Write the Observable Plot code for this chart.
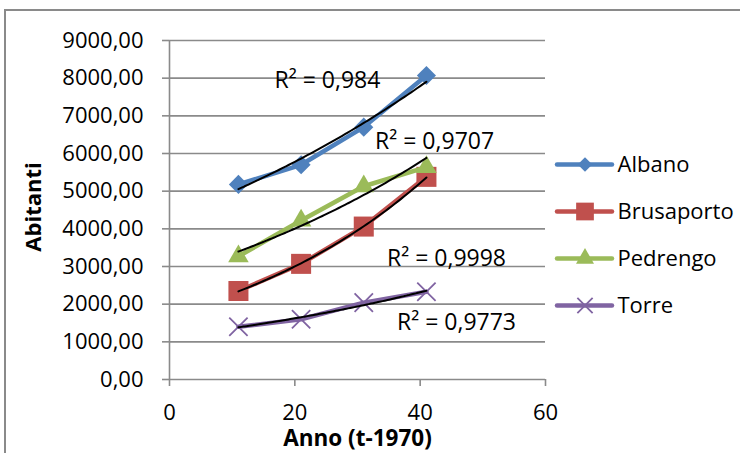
<!DOCTYPE html>
<html>
<head>
<meta charset="utf-8">
<script src="https://cdn.jsdelivr.net/npm/d3@7"></script>
<script src="https://cdn.jsdelivr.net/npm/@observablehq/plot@0.6"></script>
<style>
  html, body { margin: 0; padding: 0; background: #fff; }
  #wrap { position: relative; width: 740px; height: 453px; overflow: hidden; background: #fff; }
  #border { position: absolute; left: 4px; top: 9px; width: 900px; height: 700px;
            border-top: 2px solid #8a8a8a; border-left: 2px solid #8a8a8a; }
  #chart, #legend { position: absolute; top: 0; }
  #chart { left: 0; }
  #legend { left: 545px; }
</style>
</head>
<body>
<div id="wrap">
  <div id="border"></div>
  <div id="chart"></div>
  <div id="legend"></div>
</div>
<script>
// ---- data ----
const years = [11, 21, 31, 41];
const seriesNames = ["Albano", "Brusaporto", "Pedrengo", "Torre"];
const albano = [5180, 5700, 6700, 8070];
const brusaporto = [2350, 3070, 4060, 5380];
const pedrengo = [3270, 4220, 5130, 5640];
const torre = [1400, 1600, 2040, 2330];
const r2Values = ["0,984", "0,9707", "0,9998", "0,9773"];
// R² label anchors (data units)
const r2LabelX = [25.2, 42.3, 44.2, 45.8];
const r2LabelY = [7924, 6318, 3204, 1521];
const xTicks = [0, 20, 40, 60];
const yTicks = [0, 1000, 2000, 3000, 4000, 5000, 6000, 7000, 8000, 9000];
const xTitle = "Anno (t-1970)";
const yTitle = "Abitanti";

// ---- styling ----
const colors = ["#4F81BD", "#C0504D", "#9BBB59", "#8064A2"];
const symbols = ["diamond2", "square", "triangle2", "times"];
const rMain = [8.6, 11.3, 9.8, 8.4];
const rLegend = [6.5, 10, 8.6, 7];
const gridColor = "#8a8a8a";
const font = "'Open Sans', sans-serif";

const allValues = [albano, brusaporto, pedrengo, torre];
const rows = allValues.map((vals, i) => years.map((x, j) => ({series: seriesNames[i], x, y: vals[j]})));

function expFit(xs, ys) {
  const ls = ys.map(Math.log);
  const mx = d3.mean(xs), ml = d3.mean(ls);
  const b = d3.sum(xs, (x, k) => (x - mx) * (ls[k] - ml)) / d3.sum(xs, x => (x - mx) ** 2);
  const a = ml - b * mx;
  return x => Math.exp(a + b * x);
}
const trends = allValues.map(vals => {
  const f = expFit(years, vals);
  return d3.range(years[0], years[years.length - 1] + 0.001, 0.5).map(x => ({x, y: f(x)}));
});

const r2Rows = r2Values.map((v, i) => ({x: r2LabelX[i], y: r2LabelY[i], text: "R² = " + v}));

const marks = [
  Plot.gridY(yTicks, {stroke: gridColor, strokeOpacity: 1, strokeWidth: 1.6}),
  Plot.ruleX([0], {stroke: gridColor, strokeWidth: 1.6}),
  Plot.axisY({ticks: yTicks, tickSize: 7, tickPadding: 19, stroke: gridColor, strokeWidth: 1.6,
              tickFormat: d => d.toFixed(2).replace(".", ","), label: null, fontSize: 22, fill: "#000"}),
  Plot.axisX({ticks: xTicks, tickSize: 7, tickPadding: 18, stroke: gridColor, strokeWidth: 1.6,
              label: null, fontSize: 22, fill: "#000"}),
];
rows.forEach((r, i) => {
  marks.push(Plot.line(r, {x: "x", y: "y", stroke: colors[i], strokeWidth: 4.5, strokeLinejoin: "round"}));
  const isStroke = symbols[i] === "times";
  marks.push(Plot.dot(r, {x: "x", y: "y", symbol: symbols[i], r: rMain[i],
    fill: isStroke ? "none" : colors[i], stroke: isStroke ? colors[i] : "none", strokeWidth: isStroke ? 1.8 : 0}));
});
trends.forEach(t => {
  marks.push(Plot.line(t, {x: "x", y: "y", stroke: "#000", strokeWidth: 2, curve: "basis"}));
});
marks.push(Plot.text(r2Rows, {x: "x", y: "y", text: "text", fontSize: 23, fill: "#000", textAnchor: "middle", lineAnchor: "middle"}));
marks.push(Plot.text([yTitle], {text: d => d, frameAnchor: "left", dx: -136, dy: -3, rotate: -90,
  textAnchor: "middle", lineAnchor: "middle", fontWeight: "bold", fontSize: 22, fill: "#000"}));
marks.push(Plot.text([xTitle], {text: d => d, frameAnchor: "bottom", dy: 59,
  textAnchor: "middle", lineAnchor: "middle", fontWeight: "bold", fontSize: 22.5, fill: "#000"}));

const chart = Plot.plot({
  width: 740,
  height: 453,
  marginLeft: 169,
  marginRight: 195,
  marginTop: 40,
  marginBottom: 74,
  x: {domain: [0, 60]},
  y: {domain: [0, 9000]},
  style: {fontFamily: font, fontSize: "22px", color: "#000", background: "transparent", overflow: "visible"},
  marks
});
document.getElementById("chart").appendChild(chart);

// ---- legend ----
const legendMarks = [];
seriesNames.forEach((name, i) => {
  legendMarks.push(Plot.ruleY([name], {y: d => d, x1: 0, x2: 1, stroke: colors[i], strokeWidth: 4.5, strokeLinecap: "round"}));
  const isStroke = symbols[i] === "times";
  legendMarks.push(Plot.dot([name], {x: 0.5, y: d => d, symbol: symbols[i], r: rLegend[i],
    fill: isStroke ? "none" : colors[i], stroke: isStroke ? colors[i] : "none", strokeWidth: isStroke ? 1.8 : 0}));
  legendMarks.push(Plot.text([name], {x: 1, y: d => d, text: d => d, dx: 5, textAnchor: "start",
    fontSize: 22, fill: "#000"}));
});
const legend = Plot.plot({
  width: 195,
  height: 453,
  margin: 0,
  x: {domain: [0, 1], range: [12, 67], axis: null},
  y: {type: "point", domain: seriesNames, range: [163, 306], padding: 0, axis: null},
  style: {fontFamily: font, fontSize: "22px", color: "#000", background: "transparent", overflow: "visible"},
  marks: legendMarks
});
document.getElementById("legend").appendChild(legend);
</script>
</body>
</html>
